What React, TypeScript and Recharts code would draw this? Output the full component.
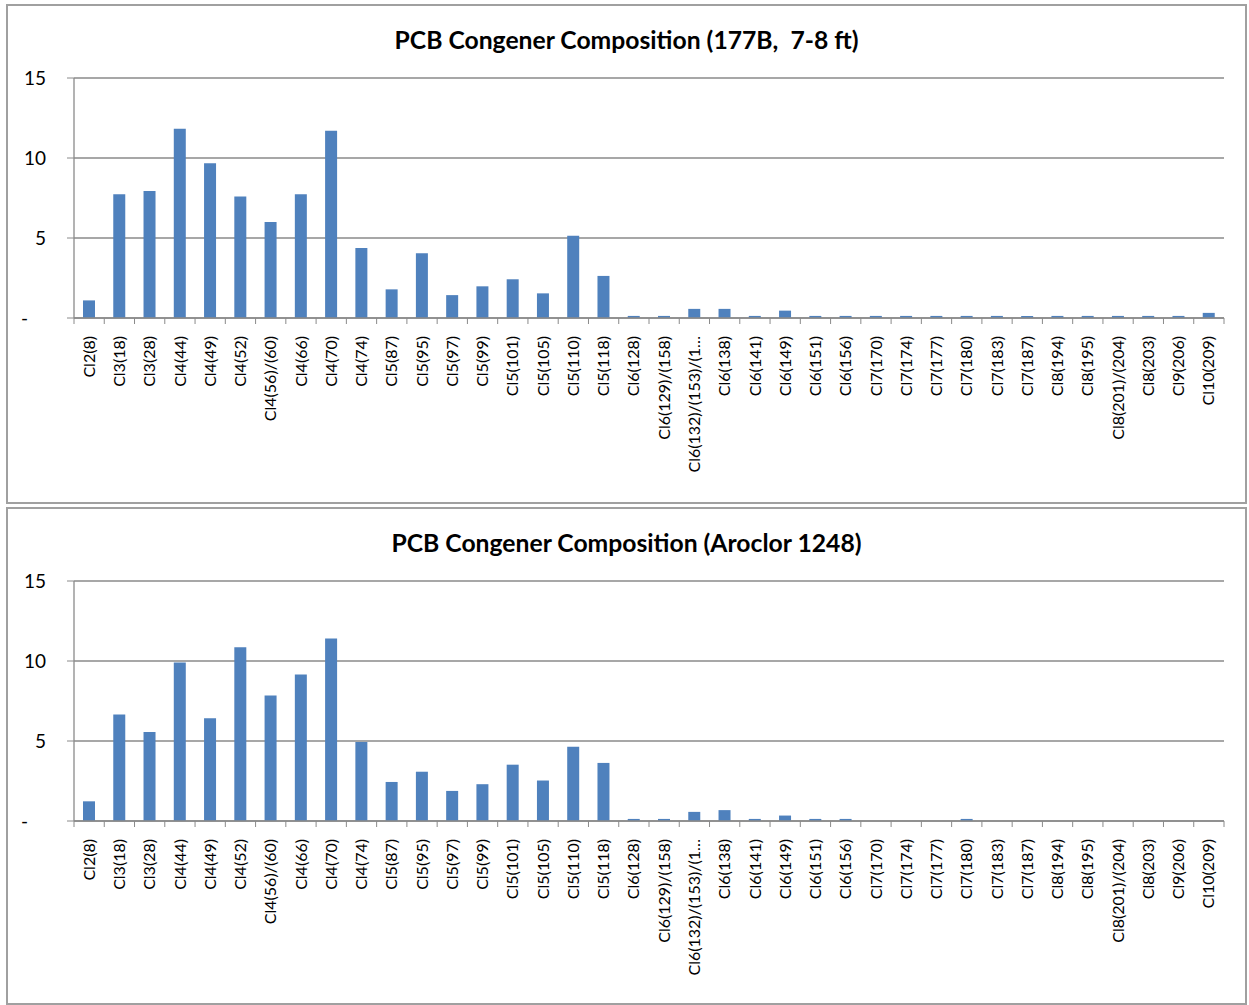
import React from "react";
import { BarChart, Bar, XAxis, YAxis, CartesianGrid } from "recharts";

const CATEGORIES = [
  "Cl2(8)", "Cl3(18)", "Cl3(28)", "Cl4(44)", "Cl4(49)", "Cl4(52)", "Cl4(56)/(60)", "Cl4(66)",
  "Cl4(70)", "Cl4(74)", "Cl5(87)", "Cl5(95)", "Cl5(97)", "Cl5(99)", "Cl5(101)", "Cl5(105)",
  "Cl5(110)", "Cl5(118)", "Cl6(128)", "Cl6(129)/(158)", "Cl6(132)/(153)/(1…", "Cl6(138)",
  "Cl6(141)", "Cl6(149)", "Cl6(151)", "Cl6(156)", "Cl7(170)", "Cl7(174)", "Cl7(177)", "Cl7(180)",
  "Cl7(183)", "Cl7(187)", "Cl8(194)", "Cl8(195)", "Cl8(201)/(204)", "Cl8(203)", "Cl9(206)", "Cl10(209)",
];

const SAMPLE_177B = [
  1.1, 7.73, 7.94, 11.83, 9.67, 7.6, 6.0, 7.73, 11.71, 4.38, 1.79, 4.05, 1.43, 1.98, 2.42, 1.54,
  5.14, 2.63, 0.13, 0.13, 0.57, 0.57, 0.13, 0.46, 0.13, 0.13, 0.13, 0.13, 0.13, 0.13, 0.13, 0.13,
  0.13, 0.13, 0.13, 0.13, 0.13, 0.32,
];

const AROCLOR_1248 = [
  1.23, 6.65, 5.56, 9.9, 6.42, 10.86, 7.84, 9.15, 11.4, 4.94, 2.44, 3.08, 1.88, 2.3, 3.52, 2.53,
  4.64, 3.63, 0.13, 0.13, 0.57, 0.68, 0.13, 0.34, 0.13, 0.13, 0, 0, 0, 0.13, 0, 0, 0, 0, 0, 0, 0, 0,
];

const Y_TICKS = [0, 5, 10, 15];

const TITLE_TOP = "PCB Congener Composition (177B,  7-8 ft)";
const TITLE_BOTTOM = "PCB Congener Composition (Aroclor 1248)";

const FONT = "Lato, 'Open Sans', sans-serif";
const GRID = "#8a8a8a";
const BAR = "#4F81BD";
const N = CATEGORIES.length;

const XTick = (props: any) => {
  const { x, y, payload, index } = props;
  const half = payload && payload.offset ? payload.offset : 15.13;
  const ay = y - 2;
  return (
    <g>
      <line x1={x - half} y1={ay} x2={x - half} y2={ay + 6} stroke={GRID} strokeWidth={1} />
      {index === N - 1 && (
        <line x1={x + half} y1={ay} x2={x + half} y2={ay + 6} stroke={GRID} strokeWidth={1} />
      )}
      <text
        transform={`translate(${x},${ay + 18}) rotate(-90)`}
        textAnchor="end"
        dy="0.35em"
        fontSize={16}
        fontFamily={FONT}
        fill="#000"
      >
        {payload.value}
      </text>
    </g>
  );
};

const YTick = (props: any) => {
  const { x, y, payload } = props;
  const isZero = payload.value === 0;
  return (
    <text
      x={isZero ? x - 18 : x}
      y={y}
      dy="0.36em"
      textAnchor="end"
      fontSize={19}
      fontFamily={FONT}
      fill="#000"
    >
      {isZero ? "-" : String(payload.value)}
    </text>
  );
};

function Panel({ top, height, title, values }: { top: number; height: number; title: string; values: number[] }) {
  const data = CATEGORIES.map((name, i) => ({ name, value: values[i] }));
  return (
    <div
      style={{
        position: "absolute",
        left: 6,
        top,
        width: 1241,
        height,
        border: "2px solid #a0a0a0",
        boxSizing: "border-box",
        background: "#fff",
      }}
    >
      <div
        style={{
          position: "absolute",
          left: 0,
          width: "100%",
          top: 23,
          textAlign: "center",
          fontFamily: FONT,
          fontWeight: 700,
          fontSize: 24.7,
          lineHeight: "22px",
          color: "#000",
          whiteSpace: "pre",
        }}
      >
        {title}
      </div>
      <div style={{ position: "absolute", left: 0, top: 0 }}>
        <BarChart
          width={1237}
          height={496}
          data={data}
          margin={{ top: 72, right: 21, bottom: 14, left: 6 }}
          barSize={12}
        >
          <CartesianGrid vertical={false} stroke={GRID} strokeWidth={1.3} />
          <XAxis
            dataKey="name"
            interval={0}
            height={170}
            tickLine={false}
            tickSize={0}
            axisLine={{ stroke: GRID, strokeWidth: 1.3 }}
            tick={<XTick />}
          />
          <YAxis
            width={60}
            domain={[0, 15]}
            ticks={Y_TICKS}
            tickSize={7}
            tickMargin={21}
            tickLine={{ stroke: GRID }}
            axisLine={{ stroke: GRID, strokeWidth: 1.3 }}
            tick={<YTick />}
          />
          <Bar dataKey="value" fill={BAR} isAnimationActive={false} />
        </BarChart>
      </div>
    </div>
  );
}

export default function App() {
  return (
    <div style={{ position: "absolute", left: 0, top: 0, width: 1249, height: 1005, background: "#fff" }}>
      <Panel top={4} height={500} title={TITLE_TOP} values={SAMPLE_177B} />
      <Panel top={507} height={498} title={TITLE_BOTTOM} values={AROCLOR_1248} />
    </div>
  );
}
